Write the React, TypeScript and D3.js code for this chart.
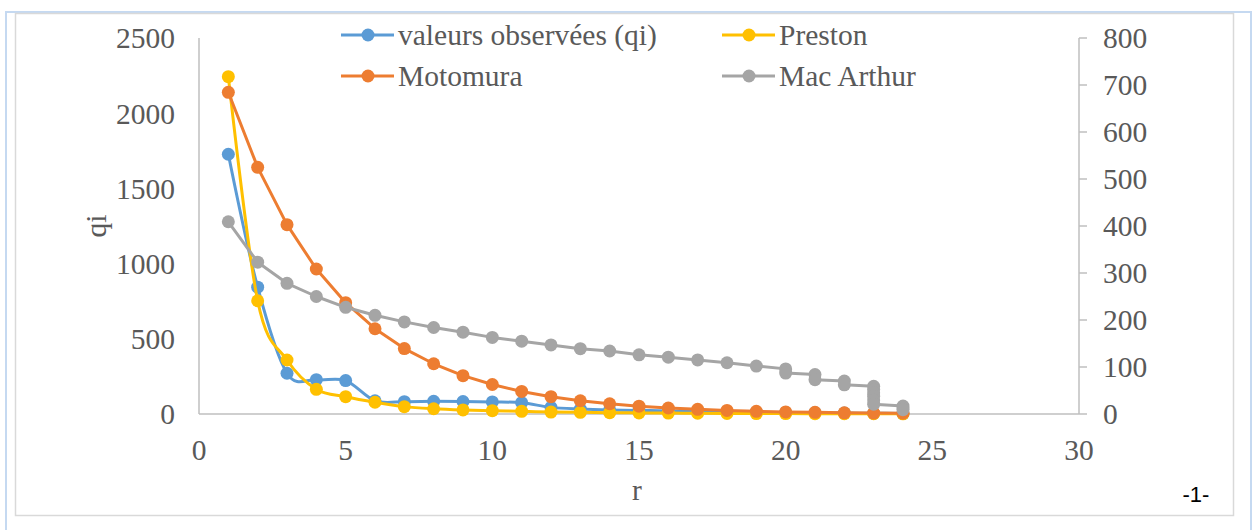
import React from "react";
import * as d3 from "d3";

const ranks = [1,2,3,4,5,6,7,8,9,10,11,12,13,14,15,16,17,18,19,20,21,22,23,24];
const observed = [1727,843,271,228,222,88,82,84,83,80,75,44,33,27,24,20,18,15,12,10,8,6,5,3];
const preston = [2243,753,359,164,115,78,49,35,27,22,18,13,11,9,7,6,5,4,3,3,2,2,2,1];
const motomura = [2139,1640,1259,964,740,567,435,334,255,196,150,115,88,68,52,40,31,24,18,14,11,8,6,5];
const macArthurR = [1,2,3,4,5,6,7,8,9,10,11,12,13,14,15,16,17,18,19,20,20,21,21,22,22,23,23,23,23,23,23,24,24,24];
const macArthurV = [409,323,278,250,227,210,196,184,174,163,155,147,139,134,126,121,115,109,102,96,87,84,73,70,62,59,52,45,38,30,21,17,13,9];

const xTicks = [0,5,10,15,20,25,30];
const yLeftTicks = [0,500,1000,1500,2000,2500];
const yRightTicks = [0,100,200,300,400,500,600,700,800];

const seriesNames = ["valeurs observées (qi)", "Preston", "Motomura", "Mac Arthur"];
const colors = ["#5B9BD5", "#FFC000", "#ED7D31", "#A5A5A5"];

export default function App() {
  const x = d3.scaleLinear().domain([0, 30]).range([199, 1079]);
  const yL = d3.scaleLinear().domain([0, 2500]).range([414, 38]);
  const yR = d3.scaleLinear().domain([0, 800]).range([414, 38]);

  type P = [number, number];
  const obsPts: P[] = ranks.map((r, i) => [x(r), yL(observed[i])]);
  const prePts: P[] = ranks.map((r, i) => [x(r), yL(preston[i])]);
  const motPts: P[] = ranks.map((r, i) => [x(r), yL(motomura[i])]);
  const macPts: P[] = macArthurR.map((r, i) => [x(r), yR(macArthurV[i])]);

  const smooth = d3.line().curve(d3.curveCardinal.tension(0));
  const straight = d3.line();

  const series = [
    { pts: obsPts, gen: smooth, color: colors[0] },
    { pts: prePts, gen: smooth, color: colors[1] },
    { pts: motPts, gen: straight, color: colors[2] },
    { pts: macPts, gen: straight, color: colors[3] },
  ];

  const serif = { fontFamily: "Liberation Serif, Tinos, DejaVu Serif, serif" };
  const fs = 29.5;
  const textColor = "#595959";
  const axisColor = "#BFBFBF";

  const legend = [
    { name: seriesNames[0], color: colors[0], lx: 341, ly: 35 },
    { name: seriesNames[1], color: colors[1], lx: 722, ly: 35 },
    { name: seriesNames[2], color: colors[2], lx: 341, ly: 76 },
    { name: seriesNames[3], color: colors[3], lx: 722, ly: 76 },
  ];

  return (
    <svg width={1253} height={530} style={{ position: "absolute", left: 0, top: 0, background: "#fff" }}>
      <rect x={6} y={12} width={1245} height={530} fill="#fff" stroke="#C5D9F1" strokeWidth={2} />
      <rect x={15.5} y={13.5} width={1218} height={502} fill="#fff" stroke="#D9D9D9" strokeWidth={1.5} />

      <line x1={199} y1={38} x2={199} y2={414} stroke={axisColor} strokeWidth={1.5} />
      <line x1={1079} y1={38} x2={1079} y2={414} stroke={axisColor} strokeWidth={1.5} />
      <line x1={199} y1={414} x2={1079} y2={414} stroke={axisColor} strokeWidth={1.5} />

      {yLeftTicks.map((t) => (
        <text key={"yl" + t} x={175} y={yL(t)} dy="0.35em" textAnchor="end" style={serif} fontSize={fs} fill={textColor}>{t}</text>
      ))}
      {yRightTicks.map((t) => (
        <g key={"yr" + t}>
          <line x1={1079} x2={1087} y1={yR(t)} y2={yR(t)} stroke={axisColor} strokeWidth={1.5} />
          <text x={1103} y={yR(t)} dy="0.35em" textAnchor="start" style={serif} fontSize={fs} fill={textColor}>{t}</text>
        </g>
      ))}
      {xTicks.map((t) => (
        <text key={"x" + t} x={x(t)} y={450} dy="0.35em" textAnchor="middle" style={serif} fontSize={fs} fill={textColor}>{t}</text>
      ))}

      <text transform="translate(96,226) rotate(-90)" dy="0.35em" textAnchor="middle" style={serif} fontSize={fs} fill={textColor}>qi</text>
      <text x={637} y={490} dy="0.35em" textAnchor="middle" style={serif} fontSize={fs} fill={textColor}>r</text>

      {series.map((s, i) => (
        <g key={"s" + i}>
          <path d={s.gen(s.pts) || ""} fill="none" stroke={s.color} strokeWidth={3} strokeLinejoin="round" strokeLinecap="round" />
          {s.pts.map((p, j) => (
            <circle key={j} cx={p[0]} cy={p[1]} r={6.5} fill={s.color} />
          ))}
        </g>
      ))}

      {legend.map((l, i) => (
        <g key={"lg" + i}>
          <line x1={l.lx} x2={l.lx + 53} y1={l.ly} y2={l.ly} stroke={l.color} strokeWidth={3} />
          <circle cx={l.lx + 27} cy={l.ly} r={6.5} fill={l.color} />
          <text x={l.lx + 57} y={l.ly} dy="0.35em" style={serif} fontSize={fs} fill={textColor}>{l.name}</text>
        </g>
      ))}

      <text x={1196} y={502} textAnchor="middle" style={{ fontFamily: "Liberation Sans, Arial, sans-serif" }} fontSize={22} fill="#000">-1-</text>
    </svg>
  );
}
